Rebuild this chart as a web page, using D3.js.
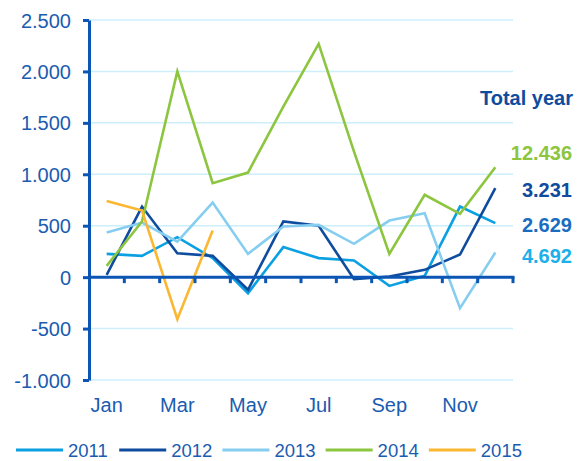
<!DOCTYPE html>
<html>
<head>
<meta charset="utf-8">
<script src="https://cdn.jsdelivr.net/npm/d3@7"></script>
<style>
  body { margin: 0; background: #fff; }
  svg text { font-family: "Liberation Sans", Arial, sans-serif; }
</style>
</head>
<body>
<div class="canvas"></div>
<script>
// data
const months = ['Jan','Feb','Mar','Apr','May','Jun','Jul','Aug','Sep','Oct','Nov','Dec'];
const monthLabels = ['Jan','Mar','May','Jul','Sep','Nov'];
const years = ['2011','2012','2013','2014','2015'];
const values2011 = [226, 207, 389, 185, -156, 292, 185, 162, -85, 13, 686, 525];
const values2012 = [22, 686, 233, 207, -123, 541, 499, -20, 6, 71, 220, 865];
const values2013 = [434, 531, 346, 725, 226, 492, 508, 324, 550, 622, -301, 239];
const values2014 = [110, 541, 2000, 913, 1017, 1658, 2267, 1220, 226, 800, 615, 1069];
const values2015 = [741, 648, -408, 453];
const yTicks = [-1000, -500, 0, 500, 1000, 1500, 2000, 2500];
const totalTitle = 'Total year';
const totals = [12436, 3231, 2629, 4692];

const colors = {
  '2011': '#0ba0e2',
  '2012': '#0f4c9e',
  '2013': '#86cef0',
  '2014': '#8cc53e',
  '2015': '#fbb731'
};
const totalColors = ['#8cc53e', '#0f4c9e', '#1a6cbf', '#1cb0ea'];
const textBlue = '#1a5cb0';
const axisBlue = '#0b55b5';

const series = [
  {year: '2011', values: values2011},
  {year: '2012', values: values2012},
  {year: '2013', values: values2013},
  {year: '2014', values: values2014},
  {year: '2015', values: values2015}
];

// german style number formatting (2.500, -1.000)
const locale = d3.formatLocale({decimal: ',', thousands: '.', grouping: [3], currency: ['', ''], minus: '-'});
const fmt = locale.format(',.0f');

const dims = {width: 581, height: 461};
const plot = {left: 89, right: 513, top: 20, bottom: 380};

const svg = d3.select('.canvas')
  .append('svg')
  .attr('width', dims.width)
  .attr('height', dims.height);

const x = d3.scaleBand()
  .domain(months)
  .range([plot.left, plot.right])
  .padding(0);

const y = d3.scaleLinear()
  .domain([-1000, 2500])
  .range([plot.bottom, plot.top]);

const cx = d => x(d) + x.bandwidth() / 2;

// gridlines
svg.append('g')
  .selectAll('line')
  .data(yTicks.filter(t => t !== 0))
  .join('line')
  .attr('x1', plot.left)
  .attr('x2', plot.right)
  .attr('y1', d => y(d))
  .attr('y2', d => y(d))
  .attr('stroke', '#cdeefb')
  .attr('stroke-width', 1.5);

// y axis
const yAxis = svg.append('g')
  .attr('transform', `translate(${plot.left},0)`)
  .call(d3.axisLeft(y).tickValues(yTicks).tickFormat(fmt).tickSize(6).tickSizeOuter(0).tickPadding(12));
yAxis.select('.domain').attr('stroke', axisBlue).attr('stroke-width', 3);
yAxis.selectAll('.tick line').attr('stroke', axisBlue).attr('stroke-width', 3);
yAxis.selectAll('.tick text')
  .attr('fill', textBlue)
  .style('font-size', '20px')
  .attr('dy', '0.35em');

// lines
const line = d3.line()
  .x((d, i) => cx(months[i]))
  .y(d => y(d));

svg.append('g')
  .selectAll('path')
  .data(series)
  .join('path')
  .attr('d', d => line(d.values))
  .attr('fill', 'none')
  .attr('stroke', d => colors[d.year])
  .attr('stroke-width', 2.6)
  .attr('stroke-linejoin', 'miter');

// x axis on zero line, ticks at band edges
const xAxis = svg.append('g');
xAxis.append('line')
  .attr('x1', plot.left)
  .attr('x2', plot.right + 1.5)
  .attr('y1', y(0))
  .attr('y2', y(0))
  .attr('stroke', axisBlue)
  .attr('stroke-width', 3);
xAxis.selectAll('.xtick')
  .data(months.slice(1).map(m => x(m)).concat([plot.right]))
  .join('line')
  .attr('class', 'xtick')
  .attr('x1', d => d)
  .attr('x2', d => d)
  .attr('y1', y(0))
  .attr('y2', y(0) + 6)
  .attr('stroke', axisBlue)
  .attr('stroke-width', 3);

// month labels below plot
svg.append('g')
  .selectAll('text')
  .data(monthLabels)
  .join('text')
  .attr('x', d => cx(d))
  .attr('y', 412)
  .attr('text-anchor', 'middle')
  .attr('fill', textBlue)
  .style('font-size', '20px')
  .text(d => d);

// total year labels
svg.append('text')
  .attr('x', 573)
  .attr('y', 105)
  .attr('text-anchor', 'end')
  .attr('fill', '#0f4c9e')
  .style('font-size', '20px')
  .style('font-weight', 'bold')
  .text(totalTitle);

const totalY = [160, 197, 232, 263];
svg.append('g')
  .selectAll('text')
  .data(totals)
  .join('text')
  .attr('x', 572)
  .attr('y', (d, i) => totalY[i])
  .attr('text-anchor', 'end')
  .attr('fill', (d, i) => totalColors[i])
  .style('font-size', '20px')
  .style('font-weight', 'bold')
  .text(d => fmt(d));

// legend
const legend = svg.append('g')
  .selectAll('g')
  .data(years)
  .join('g')
  .attr('transform', (d, i) => `translate(${16 + i * 103.2},450)`);
legend.append('line')
  .attr('x1', 0)
  .attr('x2', 47)
  .attr('stroke', d => colors[d])
  .attr('stroke-width', 3);
legend.append('text')
  .attr('x', 52)
  .attr('y', 7)
  .attr('fill', textBlue)
  .style('font-size', '18.5px')
  .text(d => d);
</script>
</body>
</html>
